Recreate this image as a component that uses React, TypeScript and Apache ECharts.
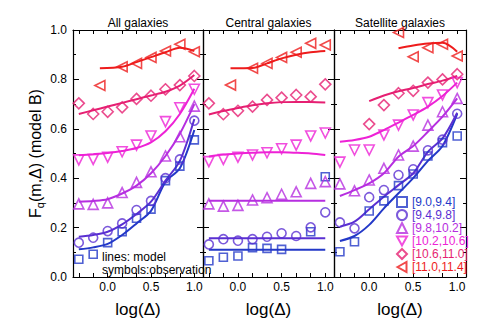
import React, { useEffect, useRef } from 'react';
import * as echarts from 'echarts';

const PANELS = ['All galaxies', 'Central galaxies', 'Satellite galaxies'];
const BINS = ['[9.0,9.4]', '[9.4,9.8]', '[9.8,10.2]', '[10.2,10.6]', '[10.6,11.0]', '[11.0,11.4]'];
const COLORS = ['#2338c8', '#5a2fd2', '#b62ee0', '#ee22d6', '#e61f72', '#ee1c1c'];

// log(Delta) bin centres
const LOGD = [-0.333, -0.167, 0.0, 0.167, 0.333, 0.5, 0.667, 0.833, 1.0];
// x positions of the most massive bin (all / central)
const RED_X_ALL = [-0.09, 0.167, 0.333, 0.5, 0.667, 0.833, 1.0];
const RED_X_CEN = [-0.085, 0.167, 0.333, 0.5, 0.667, 0.833, 1.0];

const X_TICKS = [-0.333, -0.167, 0.0, 0.167, 0.333, 0.5, 0.667, 0.833, 1.0];
const X_LABELS = [0.0, 0.5, 1.0];

// All galaxies
const allObs = [
  [0.072, 0.092, 0.139, 0.183, 0.238, 0.275, 0.39, 0.449, 0.555],
  [0.139, 0.159, 0.186, 0.217, 0.271, 0.308, 0.40, 0.476, 0.633],
  [0.296, 0.294, 0.30, 0.342, 0.383, 0.426, 0.49, 0.568, 0.692],
  [0.474, 0.476, 0.485, 0.507, 0.534, 0.571, 0.629, 0.685, 0.76],
  [0.703, 0.66, 0.669, 0.687, 0.721, 0.734, 0.76, 0.777, 0.814],
  [0.775, 0.851, 0.865, 0.889, 0.915, 0.942, 0.912],
];
const allModel = [
  [0.112, 0.12, 0.134, 0.17, 0.217, 0.268, 0.385, 0.44, 0.595],
  [0.163, 0.17, 0.183, 0.213, 0.255, 0.305, 0.39, 0.47, 0.64],
  [0.305, 0.308, 0.315, 0.338, 0.37, 0.42, 0.49, 0.58, 0.70],
  [0.493, 0.497, 0.502, 0.51, 0.522, 0.545, 0.59, 0.66, 0.762],
  [0.66, 0.675, 0.69, 0.705, 0.72, 0.735, 0.75, 0.775, 0.818],
  [0.845, 0.851, 0.87, 0.89, 0.91, 0.928, 0.915],
];

// Central galaxies
const cenObs = [
  [0.066, 0.080, 0.085, 0.119, 0.116, 0.112, null, 0.183, 0.406],
  [0.132, 0.153, 0.147, 0.153, 0.163, 0.177, 0.166, 0.201, 0.262],
  [0.296, 0.287, 0.290, 0.312, 0.321, 0.335, 0.345, 0.379, 0.386],
  [0.467, 0.476, 0.485, 0.494, 0.503, 0.519, 0.534, 0.571, 0.583],
  [0.703, 0.659, 0.673, 0.69, 0.717, 0.726, 0.737, 0.73, 0.78],
  [0.777, 0.845, 0.865, 0.889, 0.91, 0.946, 0.939],
];
const cenModel = [
  [0.110, 0.110, 0.110, 0.110, 0.110, 0.110, 0.110, 0.110, 0.110],
  [0.157, 0.157, 0.157, 0.157, 0.157, 0.157, 0.157, 0.157, 0.157],
  [0.309, 0.309, 0.309, 0.309, 0.309, 0.309, 0.309, 0.309, 0.309],
  [0.488, 0.496, 0.50, 0.503, 0.505, 0.505, 0.503, 0.50, 0.494],
  [0.658, 0.672, 0.684, 0.695, 0.703, 0.708, 0.709, 0.708, 0.706],
  [0.845, 0.846, 0.865, 0.885, 0.90, 0.91, 0.915],
];

// Satellite galaxies
const satObs = [
  [0.102, 0.143, 0.267, 0.308, 0.37, 0.417, 0.49, 0.544, 0.571],
  [0.221, 0.197, 0.323, 0.352, 0.413, 0.436, 0.513, 0.556, 0.661],
  [0.377, 0.349, 0.393, 0.44, 0.494, 0.53, 0.615, 0.669, 0.723],
  [0.465, 0.514, 0.514, 0.575, 0.615, 0.656, 0.706, 0.737, 0.787],
  [null, null, 0.619, 0.696, 0.744, 0.754, 0.787, 0.80, 0.821],
  [null, null, null, null, 0.99, 0.892, 0.928, 0.942, 0.895],
];
const satModel = [
  [0.146, 0.166, 0.211, 0.278, 0.339, 0.40, 0.47, 0.53, 0.66],
  [0.204, 0.224, 0.274, 0.325, 0.372, 0.42, 0.507, 0.561, 0.665],
  [0.328, 0.352, 0.379, 0.42, 0.487, 0.53, 0.588, 0.649, 0.723],
  [0.548, 0.555, 0.568, 0.595, 0.625, 0.656, 0.69, 0.733, 0.787],
  [null, null, 0.712, 0.735, 0.752, 0.765, 0.781, 0.795, 0.814],
  [null, null, null, null, 0.926, 0.937, 0.945, 0.948, 0.912],
];

const SYMBOLS = ['rect', 'circle', 'triangle', 'path://M0,0L10,0L5,9Z', 'diamond', 'path://M0,5L9,0L9,10Z'];
const SYMBOL_SIZES = [8, 9, 10, 10, 11, 10];

const FONT = 'Liberation Sans, Arial, Helvetica, sans-serif';

function xsFor(panel: number, bin: number) {
  if (bin === 5 && panel === 0) return RED_X_ALL;
  if (bin === 5 && panel === 1) return RED_X_CEN;
  return LOGD;
}

function pairs(xs: number[], ys: (number | null)[]) {
  const out: number[][] = [];
  ys.forEach((y, i) => {
    if (y !== null && y !== undefined) out.push([xs[i], y]);
  });
  return out;
}

export default function App() {
  const ref = useRef<HTMLDivElement>(null);
  useEffect(() => {
    document.body.style.margin = '0';
    const chart = echarts.init(ref.current!, null, { renderer: 'svg' });
    const grids = [
      { left: 73, top: 30, width: 130, height: 247 },
      { left: 203, top: 30, width: 131, height: 247 },
      { left: 334, top: 30, width: 132, height: 247 },
    ];
    const xAxes: any[] = [];
    const yAxes: any[] = [];
    const axisLine = { show: true, onZero: false, lineStyle: { color: '#000', width: 1.2 } };
    grids.forEach((_, g) => {
      xAxes.push({
        type: 'value', gridIndex: g, position: 'bottom', min: -0.4, max: 1.1,
        axisLine, splitLine: { show: false },
        axisTick: { inside: true, length: 4, customValues: X_TICKS, lineStyle: { color: '#000' } },
        axisLabel: { customValues: X_LABELS, formatter: (v: number) => v.toFixed(1), fontSize: 12, color: '#000', fontFamily: FONT, margin: 4 },
        name: 'log(Δ)', nameLocation: 'middle', nameGap: 24,
        nameTextStyle: { fontSize: 17, color: '#000', fontFamily: FONT },
      });
      xAxes.push({
        type: 'value', gridIndex: g, position: 'top', min: -0.4, max: 1.1,
        axisLine, splitLine: { show: false },
        axisTick: { inside: true, length: 4, customValues: X_TICKS, lineStyle: { color: '#000' } },
        axisLabel: { show: false },
      });
      yAxes.push({
        type: 'value', gridIndex: g, position: 'left', min: 0, max: 1, interval: 0.2,
        axisLine, splitLine: { show: false },
        axisTick: { inside: true, length: 6, lineStyle: { color: '#000' } },
        minorTick: { show: true, splitNumber: 2, length: 3, lineStyle: { color: '#000' } },
        axisLabel: { show: g === 0, formatter: (v: number) => v.toFixed(1), fontSize: 12, color: '#000', fontFamily: FONT, margin: 6 },
        ...(g === 0
          ? {
              name: '{a|F}{q|q}{a|(m,Δ) (model B)}', nameLocation: 'middle', nameRotate: 90, nameGap: 28,
              nameTextStyle: {
                rich: {
                  a: { fontSize: 16, color: '#000', fontFamily: FONT },
                  q: { fontSize: 11, color: '#000', fontFamily: FONT, padding: [8, 0, 0, 0] },
                },
              },
            }
          : {}),
      });
      yAxes.push({
        type: 'value', gridIndex: g, position: 'right', min: 0, max: 1, interval: 0.2,
        axisLine, splitLine: { show: false },
        axisTick: { inside: true, length: 6, lineStyle: { color: '#000' } },
        minorTick: { show: true, splitNumber: 2, length: 3, lineStyle: { color: '#000' } },
        axisLabel: { show: false },
      });
    });

    const obsSets = [allObs, cenObs, satObs];
    const modelSets = [allModel, cenModel, satModel];
    const series: any[] = [];
    for (let p = 0; p < 3; p++) {
      for (let b = 0; b < 6; b++) {
        const xs = xsFor(p, b);
        series.push({
          type: 'line', name: 'model ' + BINS[b], xAxisIndex: p * 2, yAxisIndex: p * 2,
          data: pairs(xs, modelSets[p][b]), showSymbol: false, smooth: 0.3,
          lineStyle: { color: COLORS[b], width: 2 }, itemStyle: { color: COLORS[b] }, z: 2,
        });
      }
      for (let b = 0; b < 6; b++) {
        const xs = xsFor(p, b);
        series.push({
          type: 'scatter', name: BINS[b], xAxisIndex: p * 2, yAxisIndex: p * 2,
          data: pairs(xs, obsSets[p][b]), symbol: SYMBOLS[b], symbolSize: SYMBOL_SIZES[b],
          itemStyle: { color: 'rgba(255,255,255,0)', borderColor: COLORS[b], borderWidth: 1.6 }, z: 3,
        });
      }
    }

    const centers = [138, 268.5, 400];
    chart.setOption({
      animation: false,
      grid: grids,
      xAxis: xAxes,
      yAxis: yAxes,
      series,
      legend: {
        data: BINS.map((b, i) => ({ name: b, textStyle: { color: COLORS[i] } })),
        orient: 'vertical', left: 394, top: 194, itemWidth: 10, itemHeight: 10, itemGap: 1,
        padding: 2, selectedMode: false, textStyle: { fontSize: 12, fontFamily: FONT },
      },
      graphic: [
        ...PANELS.map((t, i) => ({
          type: 'text', x: centers[i], y: 23,
          style: { text: t, align: 'center', verticalAlign: 'middle', fontSize: 12, fill: '#000', fontFamily: FONT },
        })),
        { type: 'text', x: 102, y: 257, style: { text: 'lines: model', align: 'left', verticalAlign: 'middle', fontSize: 12, fill: '#000', fontFamily: FONT } },
        { type: 'text', x: 102, y: 269.5, style: { text: 'symbols:observation', align: 'left', verticalAlign: 'middle', fontSize: 12, fill: '#000', fontFamily: FONT } },
      ],
    });
    return () => chart.dispose();
  }, []);
  return <div ref={ref} style={{ width: 484, height: 328 }} />;
}
